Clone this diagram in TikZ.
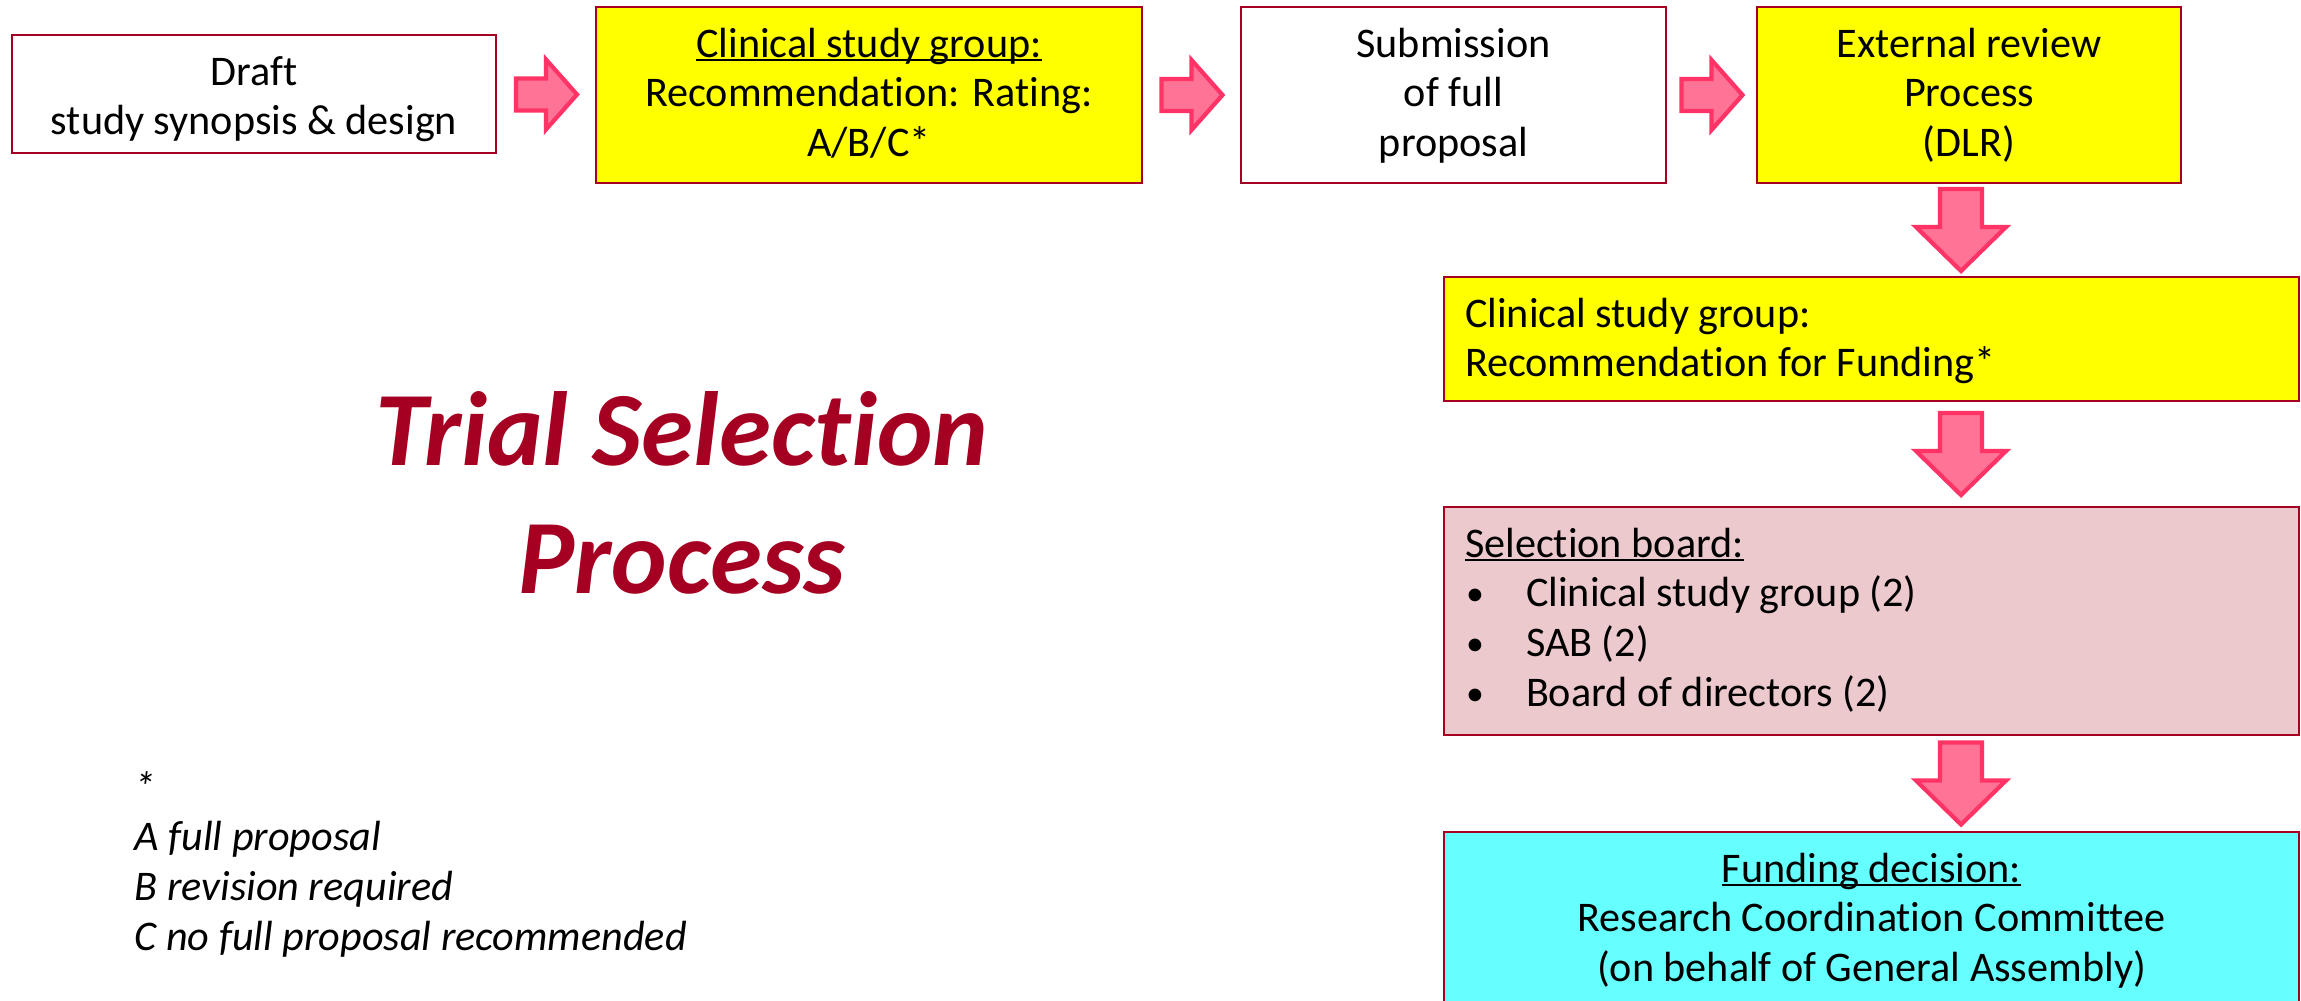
\documentclass[tikz,border=0pt]{standalone}
\usepackage{fontspec}
\setmainfont{Carlito}[RawFeature={-liga;-clig;-calt;-dlig}]
\usetikzlibrary{calc}
\newlength\px
\setlength\px{0.01cm}
\definecolor{boxred}{RGB}{165,0,33}
\definecolor{yel}{RGB}{255,255,0}
\definecolor{pinkbox}{RGB}{236,201,204}
\definecolor{cyanbox}{RGB}{102,255,255}
\definecolor{arrfill}{RGB}{255,115,150}
\definecolor{arrdraw}{RGB}{255,51,102}
\newcommand\ulin[1]{\leavevmode\setbox0\hbox{#1}\rlap{\rule[-0.1em]{\wd0}{0.06em}}\box0}
\newcommand\bul{\makebox[61\px][l]{\hspace{1\px}\raisebox{0.5pt}{\scalebox{0.85}{•}}}}
\newcommand\boxtxt[4][\centering]{\parbox[c][#3\px][t]{#2\px}{#1\fontsize{12pt}{14.2pt}\selectfont\rule{0pt}{50\px}#4}}
\tikzset{
  box/.style={draw=boxred, line width=0.65pt, inner sep=0pt, outer sep=0pt},
  barrow/.style={draw=arrdraw, fill=arrfill, line width=1.2pt, line join=miter},
  rarrow/.pic={\draw[barrow] (-30,-16) -- (0,-16) -- (0,-35) -- (31,0) -- (0,35) -- (0,16) -- (-30,16) -- cycle;},
  darrow/.pic={\draw[barrow] (-21,-41) -- (21,-41) -- (21,-3) -- (45,-3) -- (0,41) -- (-45,-3) -- (-21,-3) -- cycle;}
}
\begin{document}
\begin{tikzpicture}[x=0.01cm,y=-0.01cm]
\useasboundingbox (0,0) rectangle (2301,1000);
\clip (0,0) rectangle (2301,1000);
\fill[white] (0,0) rectangle (2301,1000);

\node[box, fill=white] (b1) at (254,94) {\boxtxt{484}{118}{Draft\\study synopsis \& design}};
\node[box, fill=yel] (b2) at (869,95) {\boxtxt{546}{176}{\ulin{Clinical study group:}\\Recommendation: Rating:\\A/B/C*}};
\node[box, fill=white] (b3) at (1453.5,95) {\boxtxt{425}{176}{Submission\\of full\\proposal}};
\node[box, fill=yel] (b4) at (1969,95) {\boxtxt{424}{176}{External review\\Process\\(DLR)}};
\node[box, fill=yel] (b5) at (1871.5,339) {\boxtxt[\raggedright\leftskip=21\px]{855}{124}{Clinical study group:\\Recommendation for Funding*}};
\node[box, fill=pinkbox] (b6) at (1871.5,621) {\boxtxt[\raggedright\leftskip=21\px]{855}{228}{\ulin{Selection board:}\\\bul Clinical study group (2)\\\bul SAB (2)\\\bul Board of directors (2)}};
\node[box, fill=cyanbox] (b7) at (1871.5,926) {\boxtxt{855}{188}{\ulin{Funding decision:}\\Research Coordination Committee\\(on behalf of General Assembly)}};

\pic at ($(b1.east)!0.5!(b2.west)$) {rarrow};
\pic at ($(b2.east)!0.5!(b3.west)$) {rarrow};
\pic at ($(b3.east)!0.5!(b4.west)$) {rarrow};

\coordinate (acol) at ($(b4.south)+(-8,0)$);
\coordinate (m1) at ($(b4.south)!0.5!(b5.north)$);
\coordinate (m2) at ($(b5.south)!0.5!(b6.north)$);
\coordinate (m3) at ($(b6.south)!0.5!(b7.north)$);
\pic at (m1 -| acol) {darrow};
\pic at (m2 -| acol) {darrow};
\pic at (m3 -| acol) {darrow};

\node[anchor=base, text=boxred, inner sep=0pt] (title) at (682,465) {\parbox[t]{900\px}{\centering\fontsize{30pt}{36.4pt}\selectfont\bfseries\itshape Trial Selection\\Process}};

\node[anchor=base west, inner sep=0pt] (note) at (134,801) {\parbox[t]{800\px}{\fontsize{12pt}{14.2pt}\selectfont\itshape *\\A full proposal\\B revision required\\C no full proposal recommended}};
\end{tikzpicture}
\end{document}
